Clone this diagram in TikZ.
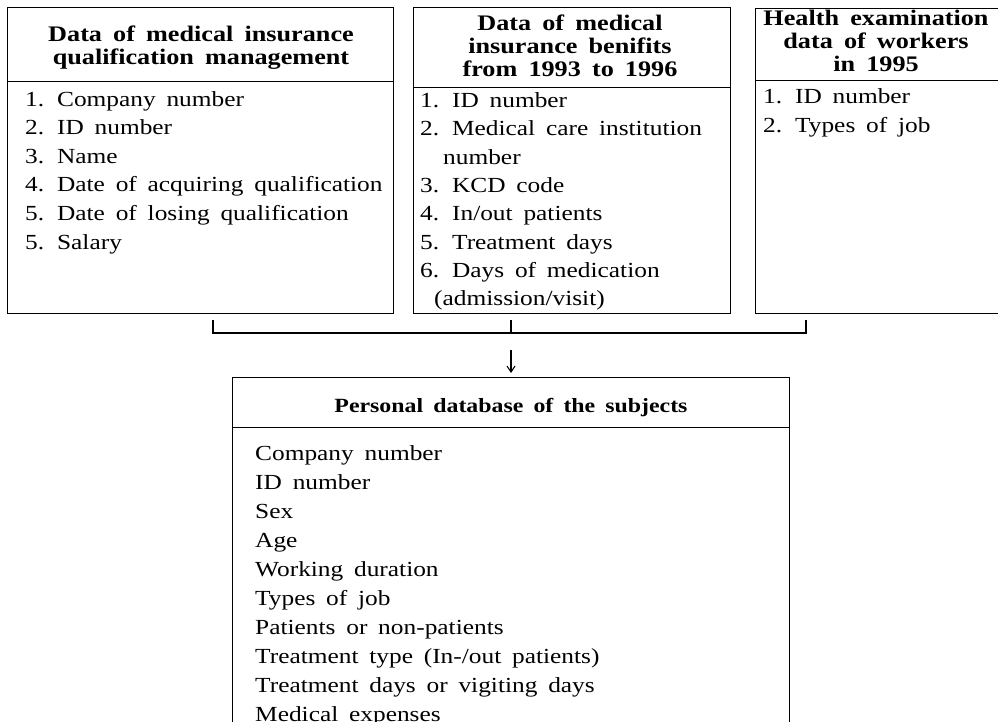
\documentclass[tikz,border=0pt]{standalone}
\usepackage{fontspec}
\setmainfont{Liberation Serif}[WordSpace=1.7, FakeStretch=1.18]
\usetikzlibrary{arrows.meta,calc}
\begin{document}
\begin{tikzpicture}[x=1pt,y=-1pt,
  frame/.style={draw, line width=1.4pt, inner sep=0pt, anchor=north west},
  hd/.style={font=\fontsize{22.2}{24}\selectfont\bfseries, anchor=base, inner sep=0pt},
  hdb/.style={font=\fontsize{20.2}{24}\selectfont\bfseries, anchor=base, inner sep=0pt},
  it/.style={font=\fontsize{21.5}{24}\selectfont, anchor=base west, inner sep=0pt},
  link/.style={line width=1.4pt}]
\useasboundingbox (0,0) rectangle (998,721);

% ---- left box
\node[frame, minimum width=386pt, minimum height=74pt]  (Lh) at (7,7) {};
\node[frame, minimum width=386pt, minimum height=232pt] (Lb) at (7,81) {};
\node[hd] (Lt1) at (201,41) {Data of medical insurance};
\node[hd] (Lt2) at (201,64) {qualification management};
\foreach \t [count=\i] in {1. Company number, 2. ID number, 3. Name,
  4. Date of acquiring qualification, 5. Date of losing qualification, 5. Salary}
  \node[it] (Li\i) at (25,{106+28.6*(\i-1)}) {\t};

% ---- middle box
\node[frame, minimum width=317pt, minimum height=80pt]  (Mh) at (413,7) {};
\node[frame, minimum width=317pt, minimum height=226pt] (Mb) at (413,87) {};
\node[hd] (Mt1) at (570,30) {Data of medical};
\node[hd] (Mt2) at (570,53) {insurance benifits};
\node[hd] (Mt3) at (570,76) {from 1993 to 1996};
\foreach \t/\x [count=\i] in {1. ID number/420, 2. Medical care institution/420, number/443,
  3. KCD code/420, 4. In{/}out patients/420, 5. Treatment days/420,
  6. Days of medication/420, (admission{/}visit)/434}
  \node[it] (Mi\i) at (\x,{107.5+28.3*(\i-1)}) {\t};

% ---- right box
\node[frame, minimum width=260pt, minimum height=72pt]  (Rh) at (755,8) {};
\node[frame, minimum width=260pt, minimum height=233pt] (Rb) at (755,80) {};
\node[hd] (Rt1) at (876,25) {Health examination};
\node[hd] (Rt2) at (876,48) {data of workers};
\node[hd] (Rt3) at (876,71) {in 1995};
\node[it] (Ri1) at (763,103) {1. ID number};
\node[it] (Ri2) at (763,132) {2. Types of job};

% ---- bottom box
\node[frame, minimum width=557pt, minimum height=50pt]  (Bh) at (232,377) {};
\node[frame, minimum width=557pt, minimum height=330pt] (Bb) at (232,427) {};
\node[hdb] (Bt) at (511,412) {Personal database of the subjects};
\foreach \t [count=\i] in {Company number, ID number, Sex, Age, Working duration,
  Types of job, Patients or non-patients, Treatment type (In-{/}out patients),
  Treatment days or vigiting days, Medical expenses}
  \node[it] (Bi\i) at (255,{460+29.0*(\i-1)}) {\t};

% ---- connectors
\coordinate (cl) at (213,320);
\coordinate (cm) at (511,320);
\coordinate (cr) at (806,320);
\coordinate (jl) at (213,333);
\coordinate (jm) at (511,333);
\coordinate (jr) at (806,333);
\coordinate (as) at (511,350);
\coordinate (ae) at (511,373);
\draw[link] (cl) -- (jl) -- (jr) -- (cr);
\draw[link] (cm) -- (jm);
\draw[line width=1.1pt, -{Straight Barb[length=6pt,width=8pt]}] (as) -- (ae);
\end{tikzpicture}
\end{document}
